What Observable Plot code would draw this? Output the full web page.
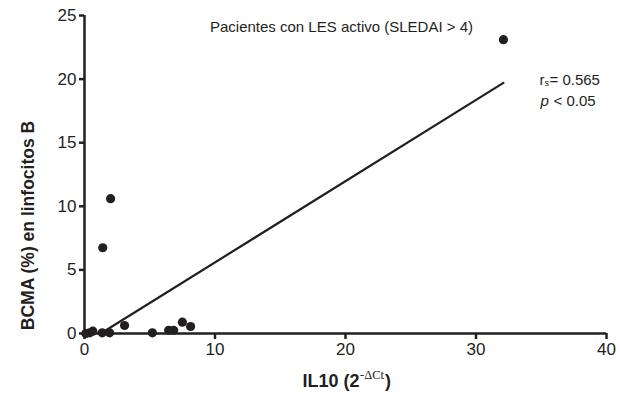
<!DOCTYPE html>
<html>
<head>
<meta charset="utf-8">
<script src="https://cdn.jsdelivr.net/npm/d3@7"></script>
<script src="https://cdn.jsdelivr.net/npm/@observablehq/plot@0.6"></script>
<style>
  html, body { margin: 0; padding: 0; background: #fff; }
  #chart svg { display: block; }
</style>
</head>
<body>
<div id="chart"></div>
<script>
// IL10 (2^-ΔCt) values
const il10 = [0.1, 0.4, 0.64, 1.36, 1.92, 3.07, 5.2, 6.45, 6.83, 7.5, 8.13, 1.4, 2.0, 32.1];
// BCMA (%) in B lymphocytes
const bcma = [0.0, 0.05, 0.18, 0.05, 0.05, 0.63, 0.05, 0.25, 0.25, 0.89, 0.55, 6.74, 10.6, 23.1];
// fitted line end points
const fitX = [1.4, 32.1];
const fitY = [0.1, 19.7];
const xTicks = [0, 10, 20, 30, 40];
const yTicks = [0, 5, 10, 15, 20, 25];
const titleText = "Pacientes con LES activo (SLEDAI > 4)";
const yLabel = "BCMA (%) en linfocitos B";

const points = il10.map((x, i) => ({x, y: bcma[i]}));
const fit = fitX.map((x, i) => ({x, y: fitY[i]}));

const ink = "#231f20";
const font = "'Liberation Sans', Arial, Helvetica, sans-serif";

const chart = Plot.plot({
  width: 620,
  height: 397,
  marginLeft: 84,
  marginRight: 14,
  marginTop: 15,
  marginBottom: 64,
  style: {fontFamily: font, color: ink, background: "#fff"},
  x: {domain: [0, 40]},
  y: {domain: [0, 25]},
  marks: [
    Plot.axisX({ticks: xTicks, tickSize: 6, tickPadding: 3, strokeWidth: 2.5, fontSize: 17, label: null, stroke: ink, fill: ink}),
    Plot.axisY({ticks: yTicks, tickSize: 5, tickPadding: 3, strokeWidth: 2.5, fontSize: 17, label: null, stroke: ink, fill: ink}),
    Plot.ruleY([0], {stroke: ink, strokeWidth: 2.5}),
    Plot.ruleX([0], {stroke: ink, strokeWidth: 2.5}),
    Plot.line(fit, {x: "x", y: "y", stroke: ink, strokeWidth: 2.2}),
    Plot.dot(points, {x: "x", y: "y", r: 4.6, fill: ink, stroke: "none"}),
    // title
    Plot.text([titleText], {frameAnchor: "top", dx: -4, dy: 6, fontSize: 15, fill: ink}),
    // y-axis label
    Plot.text([yLabel], {frameAnchor: "left", textAnchor: "middle", rotate: -90, dx: -56, dy: 51, fontSize: 17.5, fontWeight: "bold", fill: ink}),
    // x-axis label with superscript
    Plot.text(["IL10 (2"], {frameAnchor: "bottom", textAnchor: "end", dx: 14, dy: 53, fontSize: 18, fontWeight: "bold", fill: ink}),
    Plot.text(["-ΔCt"], {frameAnchor: "bottom", textAnchor: "start", dx: 14.5, dy: 45, fontSize: 12.5, fontFamily: "'Liberation Serif', 'DejaVu Serif', serif", fill: ink}),
    Plot.text([")"], {frameAnchor: "bottom", textAnchor: "start", dx: 39.5, dy: 53, fontSize: 18, fontWeight: "bold", fill: ink}),
    // annotation
    Plot.text(["r"], {frameAnchor: "top-left", textAnchor: "start", dx: 455, dy: 59, fontSize: 15, fill: ink}),
    Plot.text(["s"], {frameAnchor: "top-left", textAnchor: "start", dx: 460, dy: 64, fontSize: 9, fill: ink}),
    Plot.text(["= 0.565"], {frameAnchor: "top-left", textAnchor: "start", dx: 465, dy: 59, fontSize: 15, fill: ink}),
    Plot.text(["p"], {frameAnchor: "top-left", textAnchor: "start", dx: 456, dy: 80, fontSize: 15, fontStyle: "italic", fill: ink}),
    Plot.text(["< 0.05"], {frameAnchor: "top-left", textAnchor: "start", dx: 469, dy: 80, fontSize: 15, fill: ink})
  ]
});
document.getElementById("chart").appendChild(chart);
</script>
</body>
</html>
